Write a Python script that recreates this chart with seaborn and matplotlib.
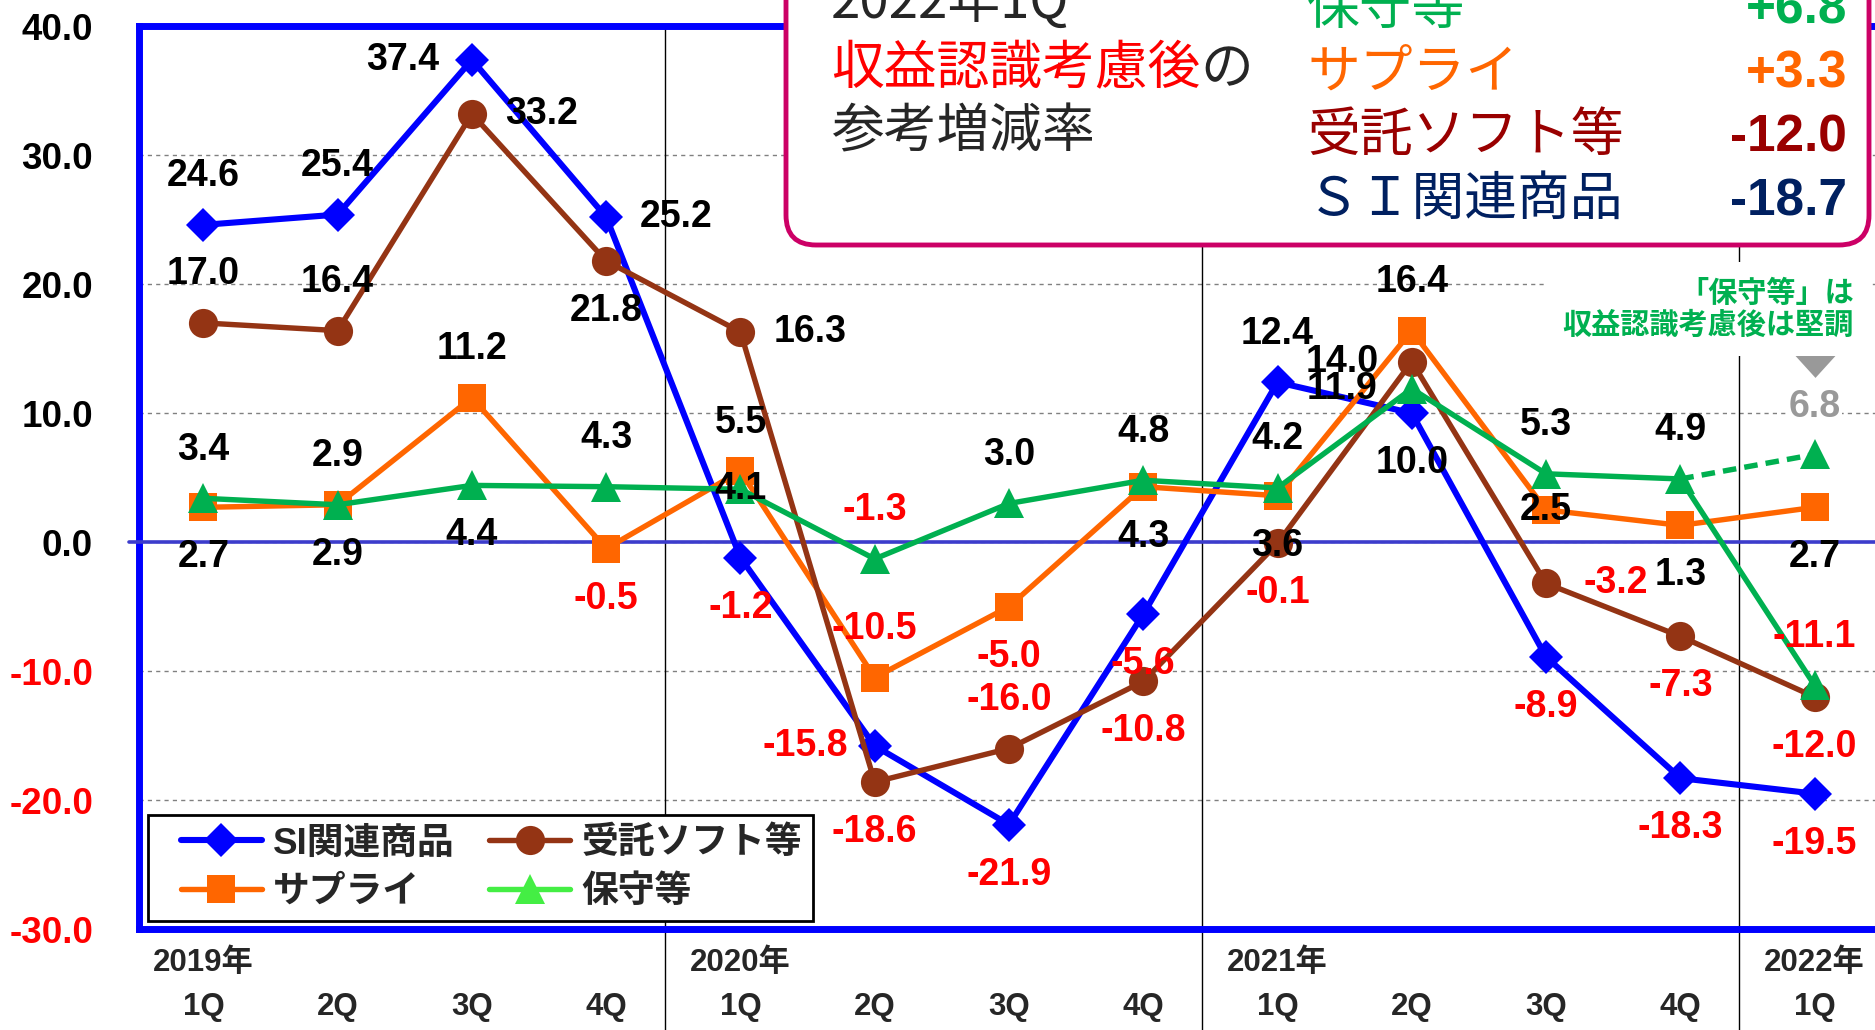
"""Quarterly YoY growth by product segment with 2022 1Q adjusted reference box."""

import matplotlib

matplotlib.use("Agg")

import matplotlib.pyplot as plt
import matplotlib.transforms as mtransforms
import numpy as np
import pandas as pd
import seaborn as sns
from matplotlib.legend_handler import HandlerLine2D
from matplotlib.lines import Line2D
from matplotlib.patches import FancyBboxPatch
from matplotlib.text import Annotation

# ---- data -------------------------------------------------------------
QUARTERS = ["1Q", "2Q", "3Q", "4Q", "1Q", "2Q", "3Q", "4Q",
            "1Q", "2Q", "3Q", "4Q", "1Q"]
YEARS = ["2019年", "2020年", "2021年", "2022年"]
YEAR_START = [0, 4, 8, 12]

SI_GOODS = [24.6, 25.4, 37.4, 25.2, -1.2, -15.8, -21.9, -5.6,
            12.4, 10.0, -8.9, -18.3, -19.5]
SOFTWARE = [17.0, 16.4, 33.2, 21.8, 16.3, -18.6, -16.0, -10.8,
            -0.1, 14.0, -3.2, -7.3, -12.0]
SUPPLY = [2.7, 2.9, 11.2, -0.5, 5.5, -10.5, -5.0, 4.3,
          3.6, 16.4, 2.5, 1.3, 2.7]
MAINTENANCE = [3.4, 2.9, 4.4, 4.3, 4.1, -1.3, 3.0, 4.8,
               4.2, 11.9, 5.3, 4.9, -11.1]
MAINTENANCE_ADJ = 6.8  # 2022 1Q after revenue-recognition adjustment

BOX_NAMES = ["保守等", "サプライ", "受託ソフト等", "ＳＩ関連商品"]
BOX_VALUES = [6.8, 3.3, -12.0, -18.7]

Y_TICKS = [40, 30, 20, 10, 0, -10, -20, -30]

# label placement around each point: u=above, d=below, l=left, r=right, c=on top
OFFSETS = {"u": (0, 35), "d": (0, -36), "l": (-50, 0), "r": (50, 0), "c": (0, 0)}
SI_POS = ["u", "u", "l", "r", "d", "l", "d", "d", "u", "d", "d", "d", "d"]
SUPPLY_POS = ["d", "d", "u", "d", "u", "u", "d", "d", "d", "u", "c", "d", "d"]
SOFTWARE_POS = ["u", "u", "r", "d", "r", "d", "u", "d", "d", "l", "r", "d", "d"]
MAINT_POS = ["u", "u", "d", "u", "c", "u", "u", "u", "u", "l", "u", "u", "u"]

SERIES = [
    # name, values, color, marker, markersize, linewidth, legend color, label pos
    ("SI関連商品", SI_GOODS, "#0000ff", "D", 17, 4.4, "#0000ff", SI_POS),
    ("サプライ", SUPPLY, "#ff6600", "s", 20, 3.9, "#ff6600", SUPPLY_POS),
    ("受託ソフト等", SOFTWARE, "#943414", "o", 21, 3.9, "#943414", SOFTWARE_POS),
    ("保守等", MAINTENANCE, "#00b050", "^", 21, 3.9, "#44ee44", MAINT_POS),
]

BOX_COLORS = ["#00b050", "#ff6600", "#990000", "#002060"]

sns.set_style("white")
plt.rcParams["font.family"] = ["Liberation Sans", "Noto Sans CJK JP"]

fig = plt.figure(figsize=(18.75, 10.3), dpi=100)
ax = fig.add_axes([0.0741, 0.098, 0.9259, 0.8765])

x = np.arange(len(QUARTERS))

for name, vals, color, marker, ms, lw, _, pos in SERIES:
    df = pd.DataFrame({"idx": x, "val": vals})
    sns.lineplot(data=df, x="idx", y="val", ax=ax, color=color, marker=marker,
                 markersize=ms, markeredgewidth=0, linewidth=lw,
                 errorbar=None, legend=False, zorder=4)
    for xi, v, p in zip(x, vals, pos):
        dx, dy = OFFSETS[p]
        ax.annotate(f"{v:.1f}", (xi, v), xytext=(dx, dy), textcoords="offset points",
                    ha="center", va="center", fontsize=27, fontweight="bold",
                    color="black" if v >= 0 else "red", zorder=6)

# dashed reference segment for maintenance after adjustment
ax.plot([x[-2], x[-1]], [MAINTENANCE[-2], MAINTENANCE_ADJ], color="#00b050",
        lw=3.9, ls=(0, (2.5, 1.5)), zorder=4)
ax.plot([x[-1]], [MAINTENANCE_ADJ], color="#00b050", marker="^", ms=21, mew=0,
        ls="none", zorder=4)
ax.annotate(f"{MAINTENANCE_ADJ:.1f}", (x[-1], MAINTENANCE_ADJ), xytext=(0, 34),
            textcoords="offset points", ha="center", va="center", fontsize=27,
            fontweight="bold", color="#999999", zorder=6,
            bbox=dict(facecolor="white", edgecolor="none", pad=1))
tri = mtransforms.offset_copy(ax.transData, fig=fig, x=0, y=67, units="points")
ax.plot([x[-1]], [MAINTENANCE_ADJ], transform=tri, ls="none", color="#999999",
        marker=[(-1, 0.55), (1, 0.55), (0, -0.55)], ms=43, mew=0, zorder=6)

# axes styling
ax.set_xlim(-0.48, 12.45)
ax.set_ylim(-30, 40)
ax.set_xlabel("")
ax.set_ylabel("")
ax.set_axisbelow(True)
ax.yaxis.grid(True, color="#808080", lw=1, ls=(0, (3, 3)))
ax.xaxis.grid(False)
ax.axhline(0, xmin=-0.006, color="#3c3ccc", lw=2.6, zorder=3, clip_on=False)
for idx in YEAR_START[1:]:
    ax.axvline(idx - 0.56, ymin=-0.12, ymax=1, color="black", lw=1,
               zorder=1, clip_on=False)

for side in ["left", "top", "bottom"]:
    ax.spines[side].set_color("#0000ff")
    ax.spines[side].set_linewidth(5)
ax.spines["right"].set_visible(False)

ax.set_yticks(Y_TICKS)
ax.set_yticklabels([f"{v:.1f}" for v in Y_TICKS], fontsize=26.5, fontweight="bold")
for lbl, v in zip(ax.get_yticklabels(), Y_TICKS):
    lbl.set_color("black" if v >= 0 else "red")
ax.tick_params(axis="y", length=0, pad=33)

ax.set_xticks(x)
ax.set_xticklabels(QUARTERS, fontsize=22.5, fontweight="bold")
ax.tick_params(axis="x", length=0, pad=45)
for idx, year in zip(YEAR_START, YEARS):
    ax.text(idx, -0.0377, year, transform=ax.get_xaxis_transform(), ha="center",
            va="center", fontsize=22.5, fontweight="bold")

# legend
handles = [Line2D([], [], color=lc, marker=m, ms=ms, mew=0, lw=lw)
           for _, _, _, m, ms, lw, lc, _ in SERIES]
labels = [s[0] for s in SERIES]
leg = ax.legend(handles, labels, ncol=2, loc="upper left",
                bbox_to_anchor=(0.005, 0.126), borderaxespad=0, frameon=True,
                fancybox=False, edgecolor="black", framealpha=1,
                prop={"size": 26.5, "weight": "bold"}, handlelength=2.8,
                handletextpad=0.3, columnspacing=0.35, labelspacing=0.36,
                borderpad=0.3,
                handler_map={Line2D: HandlerLine2D(xpad=0.6)})
leg.get_frame().set_linewidth(2)
leg.set_zorder(7)

# reference box (figure inches)
inch = fig.dpi_scale_trans
H = 10.3
box = FancyBboxPatch((7.86, 7.85), 10.83, 3.0,
                     boxstyle="round,pad=0,rounding_size=0.3", transform=inch,
                     facecolor="white", edgecolor="#cc0066", linewidth=3.5, zorder=2)
fig.add_artist(box)

cjk = ["Noto Sans CJK JP"]
fig.text(8.31, H - 0.18, "2022年1Q", transform=inch, fontsize=38, family=cjk,
         va="baseline", zorder=3)
t_red = fig.text(8.31, H - 0.84, "収益認識考慮後", transform=inch, fontsize=38,
                 family=cjk, color="red", va="baseline", zorder=3)
fig.add_artist(Annotation("の", xy=(1, 0), xycoords=t_red, fontsize=38,
                          family=cjk, va="bottom", ha="left", zorder=3))
fig.text(8.31, H - 1.47, "参考増減率", transform=inch, fontsize=38, family=cjk,
         va="baseline", zorder=3)

for i, (name, val, col) in enumerate(zip(BOX_NAMES, BOX_VALUES, BOX_COLORS)):
    yb = H - (0.24 + 0.637 * i)
    fig.text(13.07, yb, name, transform=inch, fontsize=38, family=cjk, color=col,
             va="baseline", zorder=3)
    fig.text(18.47, yb, f"{val:+.1f}", transform=inch, fontsize=37,
             fontweight="bold", color=col, ha="right", va="baseline", zorder=3)

fig.text(18.54, H - 3.09, "「保守等」は\n収益認識考慮後は堅調", transform=inch,
         fontsize=21, family=cjk, fontweight="bold", color="#00b050", ha="right",
         va="center", multialignment="right", linespacing=1.05, zorder=3,
         bbox=dict(facecolor="white", edgecolor="none", pad=12))

fig.savefig("out.png", dpi=100)
